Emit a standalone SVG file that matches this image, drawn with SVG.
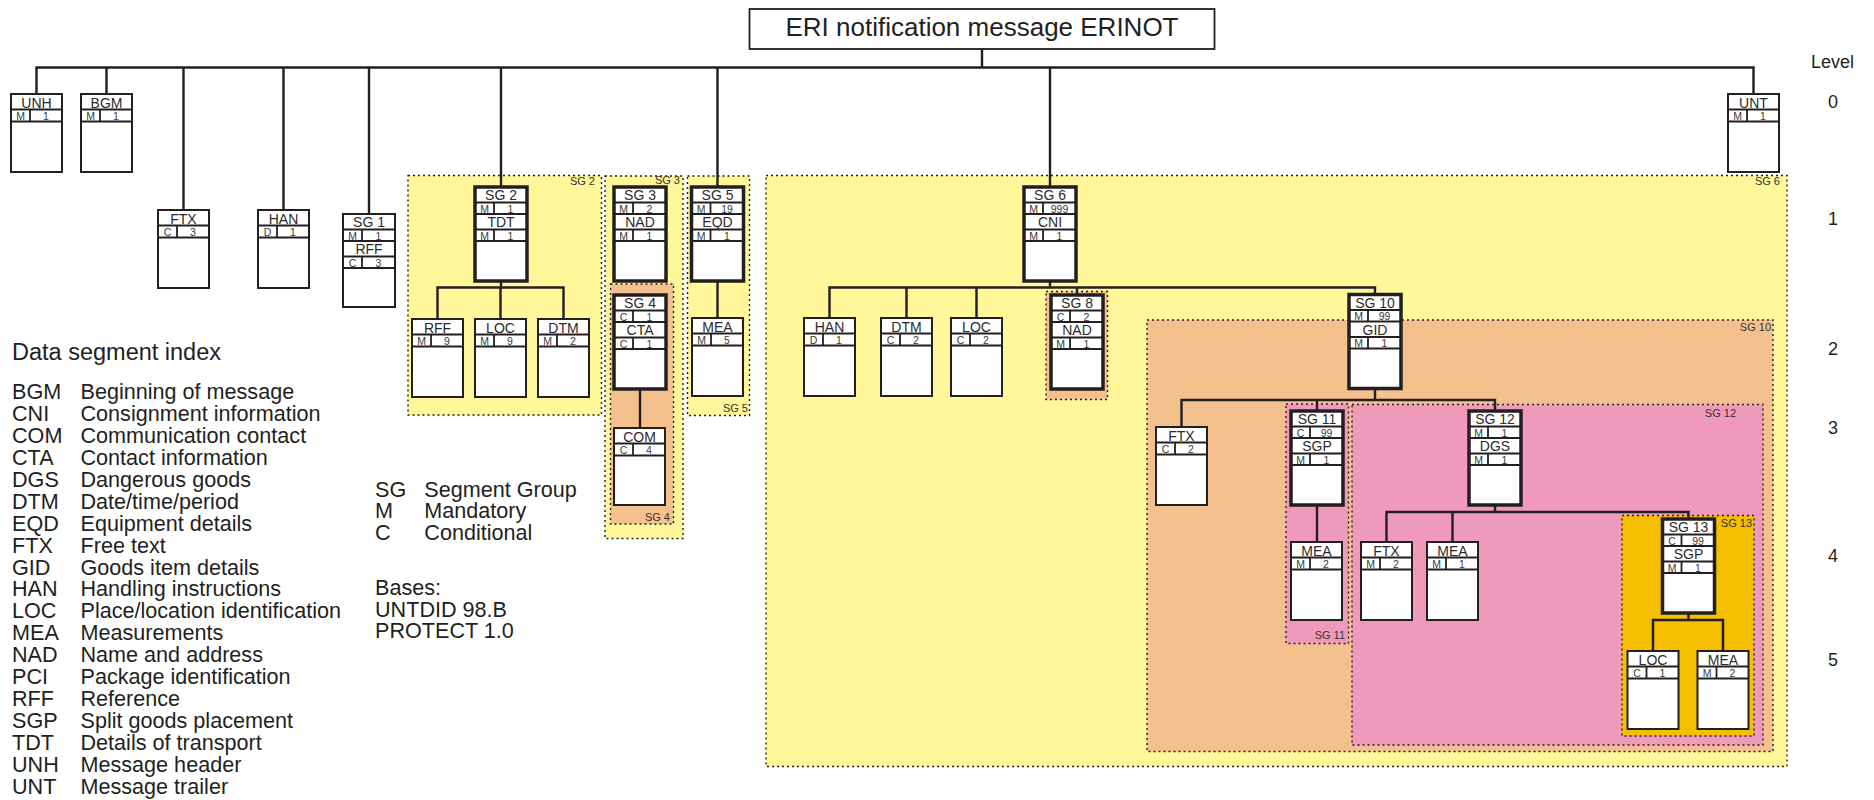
<svg xmlns="http://www.w3.org/2000/svg" width="1874" height="800" viewBox="0 0 1874 800">
<style>
.reg{stroke:#231f20;stroke-width:1.4;stroke-dasharray:2 3}
.y{fill:#fff799}.o{fill:#f4c18e}.p{fill:#f09abb}.g{fill:#f6be00}
.box{fill:#fff;stroke:#231f20;stroke-width:2}
.tb{fill:#fff;stroke:#231f20;stroke-width:3.5}
.sep{stroke:#231f20;stroke-width:1.8}
.t{font-family:"Liberation Sans",Arial,sans-serif;font-size:14px;fill:#2b2b2b;text-anchor:middle}
.s{font-family:"Liberation Sans",Arial,sans-serif;font-size:10.5px;fill:#3a3a3a;text-anchor:middle}
.con{stroke:#231f20;stroke-width:2.4;fill:none}
.rl{font-family:"Liberation Sans",Arial,sans-serif;font-size:11px;fill:#333;text-anchor:end}
.lg{font-family:"Liberation Sans",Arial,sans-serif;font-size:21.6px;fill:#231f20}
.lv{font-family:"Liberation Sans",Arial,sans-serif;font-size:18px;fill:#231f20;text-anchor:middle}
</style>

<!-- regions -->
<g id="regions">
<g id="rSG6"><rect class="reg y" x="766" y="175.5" width="1021" height="591"/><text class="rl" x="1780" y="185">SG 6</text></g>
<g id="rSG10"><rect class="reg o" x="1147" y="320" width="626" height="431.5"/><text class="rl" x="1771" y="331">SG 10</text></g>
<g id="rSG12"><rect class="reg p" x="1352" y="404.5" width="411" height="340.5"/><text class="rl" x="1736" y="416.5">SG 12</text></g>
<g id="rSG11"><rect class="reg p" x="1286" y="404" width="62.5" height="239.5"/><text class="rl" x="1345" y="639">SG 11</text></g>
<g id="rSG13"><rect class="reg g" x="1622" y="515.5" width="132" height="220.5"/><text class="rl" x="1752" y="527">SG 13</text></g>
<g id="rSG8"><rect class="reg o" x="1046" y="291.5" width="61.5" height="108"/></g>
<g id="rSG2"><rect class="reg y" x="408" y="175.5" width="193.5" height="239.5"/><text class="rl" x="595" y="184.5">SG 2</text></g>
<g id="rSG3"><rect class="reg y" x="605" y="176" width="78" height="362.5"/><text class="rl" x="680" y="184">SG 3</text></g>
<g id="rSG4"><rect class="reg o" x="610.5" y="284" width="63" height="240"/><text class="rl" x="670" y="520.5">SG 4</text></g>
<g id="rSG5"><rect class="reg y" x="687.5" y="176" width="62" height="239.5"/><text class="rl" x="748" y="412">SG 5</text></g>
</g>

<!-- connectors -->
<g id="connectors" class="con">
<path d="M982 49V67.5"/>
<path d="M36.5 94V67.5H1753.5V94"/>
<path d="M106.5 67.5V94M183.5 67.5V210M283.5 67.5V210M369 67.5V214M501 67.5V187M717.5 67.5V187M1050 67.5V187"/>
<path d="M501 281V287.5M437.5 319V287.5H563.5V319M500.5 287.5V319"/>
<path d="M640 389V428"/>
<path d="M717.5 281V318"/>
<path d="M1050 281V287.5M829.5 318V287.5H1375V294.5M906.5 287.5V318M976.5 287.5V318M1077 287.5V295"/>
<path d="M1375 388.5V400M1181.5 427V400H1495V411M1317 400V411"/>
<path d="M1317 505V542"/>
<path d="M1495 505V512M1386.5 542V512H1688.5V519M1452.5 512V542"/>
<path d="M1688.5 613V620M1653 651V620H1723V651"/>
</g>

<!-- title -->
<g id="title"><rect x="749.5" y="9" width="465" height="40" fill="#fff" stroke="#231f20" stroke-width="1.8"/><text x="982" y="36" font-family="Liberation Sans, Arial, sans-serif" font-size="26" fill="#231f20" text-anchor="middle">ERI notification message ERINOT</text></g>

<!-- simple boxes -->
<g id="UNH"><rect class="box" x="11" y="94" width="51" height="78"/><path class="sep" d="M11 109.5H62M11 121.5H62M30 109.5V121.5"/><text class="t" x="36.5" y="107.5">UNH</text><text class="s" x="20.5" y="119.5">M</text><text class="s" x="46" y="119.5">1</text></g>
<g id="BGM"><rect class="box" x="81" y="94" width="51" height="78"/><path class="sep" d="M81 109.5H132M81 121.5H132M100 109.5V121.5"/><text class="t" x="106.5" y="107.5">BGM</text><text class="s" x="90.5" y="119.5">M</text><text class="s" x="116" y="119.5">1</text></g>
<g id="UNT"><rect class="box" x="1728" y="94" width="51" height="78"/><path class="sep" d="M1728 109.5H1779M1728 121.5H1779M1747 109.5V121.5"/><text class="t" x="1753.5" y="107.5">UNT</text><text class="s" x="1737.5" y="119.5">M</text><text class="s" x="1763" y="119.5">1</text></g>
<g id="FTX1"><rect class="box" x="158" y="210" width="51" height="78"/><path class="sep" d="M158 225.5H209M158 237.5H209M177 225.5V237.5"/><text class="t" x="183.5" y="223.5">FTX</text><text class="s" x="167.5" y="235.5">C</text><text class="s" x="193" y="235.5">3</text></g>
<g id="HAN1"><rect class="box" x="258" y="210" width="51" height="78"/><path class="sep" d="M258 225.5H309M258 237.5H309M277 225.5V237.5"/><text class="t" x="283.5" y="223.5">HAN</text><text class="s" x="267.5" y="235.5">D</text><text class="s" x="293" y="235.5">1</text></g>
<g id="RFF2"><rect class="box" x="412" y="319" width="51" height="78"/><path class="sep" d="M412 334.5H463M412 346.5H463M431 334.5V346.5"/><text class="t" x="437.5" y="332.5">RFF</text><text class="s" x="421.5" y="344.5">M</text><text class="s" x="447" y="344.5">9</text></g>
<g id="LOC2"><rect class="box" x="475" y="319" width="51" height="78"/><path class="sep" d="M475 334.5H526M475 346.5H526M494 334.5V346.5"/><text class="t" x="500.5" y="332.5">LOC</text><text class="s" x="484.5" y="344.5">M</text><text class="s" x="510" y="344.5">9</text></g>
<g id="DTM2"><rect class="box" x="538" y="319" width="51" height="78"/><path class="sep" d="M538 334.5H589M538 346.5H589M557 334.5V346.5"/><text class="t" x="563.5" y="332.5">DTM</text><text class="s" x="547.5" y="344.5">M</text><text class="s" x="573" y="344.5">2</text></g>
<g id="MEA5"><rect class="box" x="692" y="318" width="51" height="78"/><path class="sep" d="M692 333.5H743M692 345.5H743M711 333.5V345.5"/><text class="t" x="717.5" y="331.5">MEA</text><text class="s" x="701.5" y="343.5">M</text><text class="s" x="727" y="343.5">5</text></g>
<g id="HAN6"><rect class="box" x="804" y="318" width="51" height="78"/><path class="sep" d="M804 333.5H855M804 345.5H855M823 333.5V345.5"/><text class="t" x="829.5" y="331.5">HAN</text><text class="s" x="813.5" y="343.5">D</text><text class="s" x="839" y="343.5">1</text></g>
<g id="DTM6"><rect class="box" x="881" y="318" width="51" height="78"/><path class="sep" d="M881 333.5H932M881 345.5H932M900 333.5V345.5"/><text class="t" x="906.5" y="331.5">DTM</text><text class="s" x="890.5" y="343.5">C</text><text class="s" x="916" y="343.5">2</text></g>
<g id="LOC6"><rect class="box" x="951" y="318" width="51" height="78"/><path class="sep" d="M951 333.5H1002M951 345.5H1002M970 333.5V345.5"/><text class="t" x="976.5" y="331.5">LOC</text><text class="s" x="960.5" y="343.5">C</text><text class="s" x="986" y="343.5">2</text></g>
<g id="COM4"><rect class="box" x="614" y="428" width="51" height="77"/><path class="sep" d="M614 443.5H665M614 455.5H665M633 443.5V455.5"/><text class="t" x="639.5" y="441.5">COM</text><text class="s" x="623.5" y="453.5">C</text><text class="s" x="649" y="453.5">4</text></g>
<g id="FTX10"><rect class="box" x="1156" y="427" width="51" height="78"/><path class="sep" d="M1156 442.5H1207M1156 454.5H1207M1175 442.5V454.5"/><text class="t" x="1181.5" y="440.5">FTX</text><text class="s" x="1165.5" y="452.5">C</text><text class="s" x="1191" y="452.5">2</text></g>
<g id="MEA11"><rect class="box" x="1291" y="542" width="51" height="78"/><path class="sep" d="M1291 557.5H1342M1291 569.5H1342M1310 557.5V569.5"/><text class="t" x="1316.5" y="555.5">MEA</text><text class="s" x="1300.5" y="567.5">M</text><text class="s" x="1326" y="567.5">2</text></g>
<g id="FTX12"><rect class="box" x="1361" y="542" width="51" height="78"/><path class="sep" d="M1361 557.5H1412M1361 569.5H1412M1380 557.5V569.5"/><text class="t" x="1386.5" y="555.5">FTX</text><text class="s" x="1370.5" y="567.5">M</text><text class="s" x="1396" y="567.5">2</text></g>
<g id="MEA12"><rect class="box" x="1427" y="542" width="51" height="78"/><path class="sep" d="M1427 557.5H1478M1427 569.5H1478M1446 557.5V569.5"/><text class="t" x="1452.5" y="555.5">MEA</text><text class="s" x="1436.5" y="567.5">M</text><text class="s" x="1462" y="567.5">1</text></g>
<g id="LOC13"><rect class="box" x="1627.5" y="651" width="51" height="78"/><path class="sep" d="M1627.5 666.5H1678.5M1627.5 678.5H1678.5M1646.5 666.5V678.5"/><text class="t" x="1653" y="664.5">LOC</text><text class="s" x="1637" y="676.5">C</text><text class="s" x="1662.5" y="676.5">1</text></g>
<g id="MEA13"><rect class="box" x="1697.5" y="651" width="51" height="78"/><path class="sep" d="M1697.5 666.5H1748.5M1697.5 678.5H1748.5M1716.5 666.5V678.5"/><text class="t" x="1723" y="664.5">MEA</text><text class="s" x="1707" y="676.5">M</text><text class="s" x="1732.5" y="676.5">2</text></g>

<!-- segment group boxes -->
<g id="SG1"><rect class="box" x="343" y="214" width="52" height="93"/><path class="sep" d="M343 229.5H395M343 241H395M343 256.5H395M343 268H395M362 229.5V241M362 256.5V268"/><text class="t" x="369" y="227">SG 1</text><text class="s" x="352.5" y="239.5">M</text><text class="s" x="378.5" y="239.5">1</text><text class="t" x="369" y="254">RFF</text><text class="s" x="352.5" y="266.5">C</text><text class="s" x="378.5" y="266.5">3</text></g>
<g id="SG2"><rect class="tb" x="475" y="187" width="52" height="94"/><path class="sep" d="M475 202.5H527M475 214H527M475 229.5H527M475 241H527M494 202.5V214M494 229.5V241"/><text class="t" x="501" y="200">SG 2</text><text class="s" x="484.5" y="212.5">M</text><text class="s" x="510.5" y="212.5">1</text><text class="t" x="501" y="227">TDT</text><text class="s" x="484.5" y="239.5">M</text><text class="s" x="510.5" y="239.5">1</text></g>
<g id="SG3"><rect class="tb" x="614" y="187" width="52" height="94"/><path class="sep" d="M614 202.5H666M614 214H666M614 229.5H666M614 241H666M633 202.5V214M633 229.5V241"/><text class="t" x="640" y="200">SG 3</text><text class="s" x="623.5" y="212.5">M</text><text class="s" x="649.5" y="212.5">2</text><text class="t" x="640" y="227">NAD</text><text class="s" x="623.5" y="239.5">M</text><text class="s" x="649.5" y="239.5">1</text></g>
<g id="SG5"><rect class="tb" x="691.5" y="187" width="52" height="94"/><path class="sep" d="M691.5 202.5H743.5M691.5 214H743.5M691.5 229.5H743.5M691.5 241H743.5M710.5 202.5V214M710.5 229.5V241"/><text class="t" x="717.5" y="200">SG 5</text><text class="s" x="701" y="212.5">M</text><text class="s" x="727" y="212.5">19</text><text class="t" x="717.5" y="227">EQD</text><text class="s" x="701" y="239.5">M</text><text class="s" x="727" y="239.5">1</text></g>
<g id="SG6"><rect class="tb" x="1024" y="187" width="52" height="94"/><path class="sep" d="M1024 202.5H1076M1024 214H1076M1024 229.5H1076M1024 241H1076M1043 202.5V214M1043 229.5V241"/><text class="t" x="1050" y="200">SG 6</text><text class="s" x="1033.5" y="212.5">M</text><text class="s" x="1059.5" y="212.5">999</text><text class="t" x="1050" y="227">CNI</text><text class="s" x="1033.5" y="239.5">M</text><text class="s" x="1059.5" y="239.5">1</text></g>
<g id="SG4"><rect class="tb" x="614" y="295" width="52" height="94"/><path class="sep" d="M614 310.5H666M614 322H666M614 337.5H666M614 349H666M633 310.5V322M633 337.5V349"/><text class="t" x="640" y="308">SG 4</text><text class="s" x="623.5" y="320.5">C</text><text class="s" x="649.5" y="320.5">1</text><text class="t" x="640" y="335">CTA</text><text class="s" x="623.5" y="347.5">C</text><text class="s" x="649.5" y="347.5">1</text></g>
<g id="SG8"><rect class="tb" x="1051" y="295" width="52" height="94"/><path class="sep" d="M1051 310.5H1103M1051 322H1103M1051 337.5H1103M1051 349H1103M1070 310.5V322M1070 337.5V349"/><text class="t" x="1077" y="308">SG 8</text><text class="s" x="1060.5" y="320.5">C</text><text class="s" x="1086.5" y="320.5">2</text><text class="t" x="1077" y="335">NAD</text><text class="s" x="1060.5" y="347.5">M</text><text class="s" x="1086.5" y="347.5">1</text></g>
<g id="SG10"><rect class="tb" x="1349" y="294.5" width="52" height="94"/><path class="sep" d="M1349 310H1401M1349 321.5H1401M1349 337H1401M1349 348.5H1401M1368 310V321.5M1368 337V348.5"/><text class="t" x="1375" y="307.5">SG 10</text><text class="s" x="1358.5" y="320">M</text><text class="s" x="1384.5" y="320">99</text><text class="t" x="1375" y="334.5">GID</text><text class="s" x="1358.5" y="347">M</text><text class="s" x="1384.5" y="347">1</text></g>
<g id="SG11"><rect class="tb" x="1291" y="411" width="52" height="94"/><path class="sep" d="M1291 426.5H1343M1291 438H1343M1291 453.5H1343M1291 465H1343M1310 426.5V438M1310 453.5V465"/><text class="t" x="1317" y="424">SG 11</text><text class="s" x="1300.5" y="436.5">C</text><text class="s" x="1326.5" y="436.5">99</text><text class="t" x="1317" y="451">SGP</text><text class="s" x="1300.5" y="463.5">M</text><text class="s" x="1326.5" y="463.5">1</text></g>
<g id="SG12"><rect class="tb" x="1469" y="411" width="52" height="94"/><path class="sep" d="M1469 426.5H1521M1469 438H1521M1469 453.5H1521M1469 465H1521M1488 426.5V438M1488 453.5V465"/><text class="t" x="1495" y="424">SG 12</text><text class="s" x="1478.5" y="436.5">M</text><text class="s" x="1504.5" y="436.5">1</text><text class="t" x="1495" y="451">DGS</text><text class="s" x="1478.5" y="463.5">M</text><text class="s" x="1504.5" y="463.5">1</text></g>
<g id="SG13"><rect class="tb" x="1662.5" y="519" width="52" height="94"/><path class="sep" d="M1662.5 534.5H1714.5M1662.5 546H1714.5M1662.5 561.5H1714.5M1662.5 573H1714.5M1681.5 534.5V546M1681.5 561.5V573"/><text class="t" x="1688.5" y="532">SG 13</text><text class="s" x="1672" y="544.5">C</text><text class="s" x="1698" y="544.5">99</text><text class="t" x="1688.5" y="559">SGP</text><text class="s" x="1672" y="571.5">M</text><text class="s" x="1698" y="571.5">1</text></g>

<!-- level labels -->
<g id="levels">
<text x="1811" y="68" font-family="Liberation Sans, Arial, sans-serif" font-size="18" fill="#231f20">Level</text>
<text class="lv" x="1833" y="108">0</text>
<text class="lv" x="1833" y="225">1</text>
<text class="lv" x="1833" y="355">2</text>
<text class="lv" x="1833" y="434">3</text>
<text class="lv" x="1833" y="562">4</text>
<text class="lv" x="1833" y="666">5</text>
</g>

<!-- index legend -->
<g id="index">
<text x="12" y="359.5" font-family="Liberation Sans, Arial, sans-serif" font-size="23.5" fill="#231f20">Data segment index</text>
<text class="lg" x="12" y="399.3">BGM</text><text class="lg" x="80.5" y="399.3">Beginning of message</text>
<text class="lg" x="12" y="421.2">CNI</text><text class="lg" x="80.5" y="421.2">Consignment information</text>
<text class="lg" x="12" y="443.1">COM</text><text class="lg" x="80.5" y="443.1">Communication contact</text>
<text class="lg" x="12" y="465">CTA</text><text class="lg" x="80.5" y="465">Contact information</text>
<text class="lg" x="12" y="486.9">DGS</text><text class="lg" x="80.5" y="486.9">Dangerous goods</text>
<text class="lg" x="12" y="508.8">DTM</text><text class="lg" x="80.5" y="508.8">Date/time/period</text>
<text class="lg" x="12" y="530.7">EQD</text><text class="lg" x="80.5" y="530.7">Equipment details</text>
<text class="lg" x="12" y="552.6">FTX</text><text class="lg" x="80.5" y="552.6">Free text</text>
<text class="lg" x="12" y="574.5">GID</text><text class="lg" x="80.5" y="574.5">Goods item details</text>
<text class="lg" x="12" y="596.4">HAN</text><text class="lg" x="80.5" y="596.4">Handling instructions</text>
<text class="lg" x="12" y="618.3">LOC</text><text class="lg" x="80.5" y="618.3">Place/location identification</text>
<text class="lg" x="12" y="640.2">MEA</text><text class="lg" x="80.5" y="640.2">Measurements</text>
<text class="lg" x="12" y="662.1">NAD</text><text class="lg" x="80.5" y="662.1">Name and address</text>
<text class="lg" x="12" y="684">PCI</text><text class="lg" x="80.5" y="684">Package identification</text>
<text class="lg" x="12" y="705.9">RFF</text><text class="lg" x="80.5" y="705.9">Reference</text>
<text class="lg" x="12" y="727.8">SGP</text><text class="lg" x="80.5" y="727.8">Split goods placement</text>
<text class="lg" x="12" y="749.7">TDT</text><text class="lg" x="80.5" y="749.7">Details of transport</text>
<text class="lg" x="12" y="771.6">UNH</text><text class="lg" x="80.5" y="771.6">Message header</text>
<text class="lg" x="12" y="793.5">UNT</text><text class="lg" x="80.5" y="793.5">Message trailer</text>
</g>

<g id="keys">
<text class="lg" x="375" y="496.7">SG</text><text class="lg" x="424.3" y="496.7">Segment Group</text>
<text class="lg" x="375" y="518.4">M</text><text class="lg" x="424.3" y="518.4">Mandatory</text>
<text class="lg" x="375" y="540.1">C</text><text class="lg" x="424.3" y="540.1">Conditional</text>
<text class="lg" x="375" y="595">Bases:</text>
<text class="lg" x="375" y="616.7">UNTDID 98.B</text>
<text class="lg" x="375" y="638.4">PROTECT 1.0</text>
</g>
</svg>
